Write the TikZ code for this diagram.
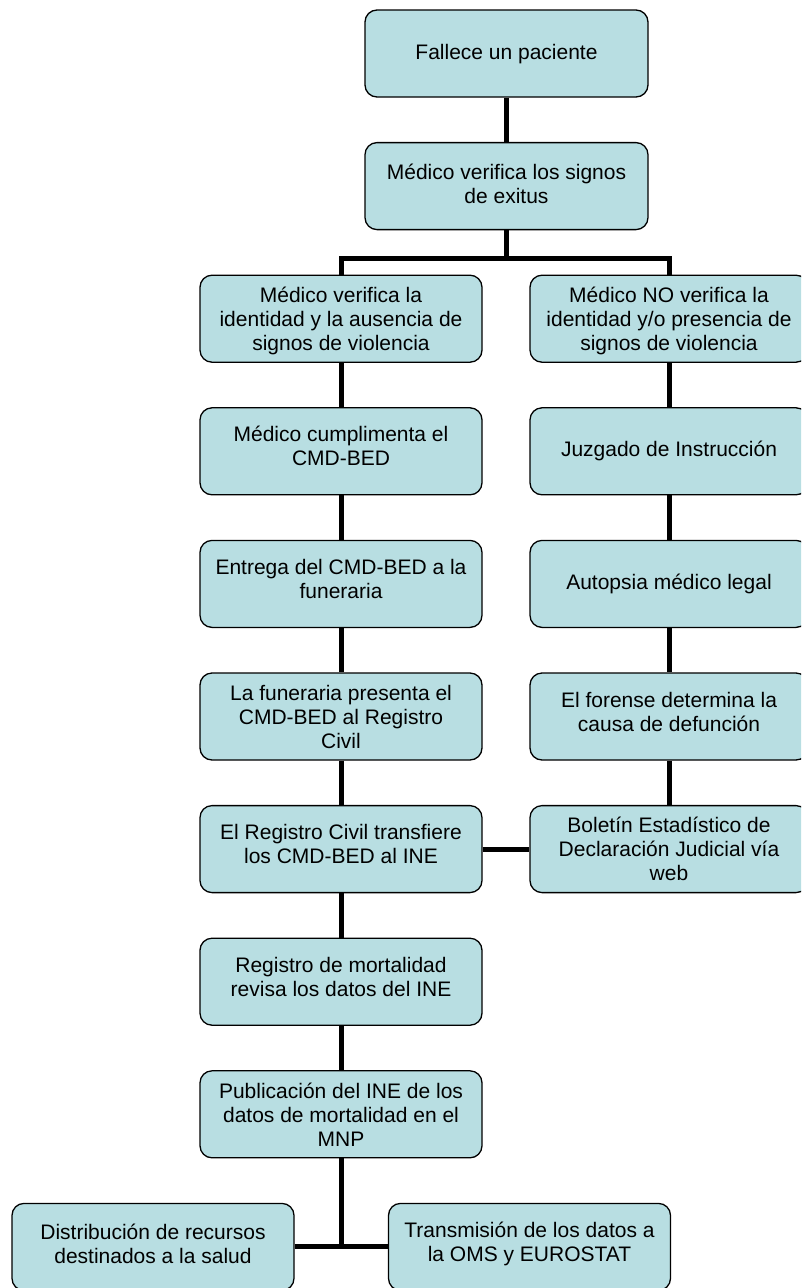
\documentclass[tikz,border=0pt]{standalone}
\usepackage{fontspec}
\setmainfont{Liberation Sans}
\usetikzlibrary{backgrounds}
\definecolor{boxblue}{RGB}{184,222,226}
\begin{document}
\begin{tikzpicture}[x=1pt,y=-1pt,
  flowbox/.style={draw=black, line width=1.3pt, fill=boxblue, rounded corners=12pt,
    minimum width=282pt, minimum height=87pt, inner sep=0pt},
  rbox/.style={flowbox, minimum width=278pt},
  tbox/.style={flowbox, minimum width=283pt},
  txt/.style={align=center, inner sep=0pt, font=\fontsize{21}{24}\selectfont},
  conn/.style={draw=black, line width=5pt, line join=miter}]
\clip (0,0) rectangle (801,1288);
% top
\node[tbox] (n0) at (506.5,53.5) {};
\node[txt] (n0t) at ([yshift=-1pt]n0.center) {Fallece un paciente};
\node[tbox] (n1) at (506.5,186.1) {};
\node[txt] (n1t) at ([yshift=2pt]n1.center) {Médico verifica los signos\\de exitus};
% left column
\node[flowbox] (l1) at (341,318.7) {};
\node[txt] (l1t) at ([yshift=-2pt]l1.center) {Médico verifica la\\identidad y la ausencia de\\signos de violencia};
\node[flowbox] (l2) at (341,451.3) {};
\node[txt] (l2t) at ([yshift=5pt]l2.center) {Médico cumplimenta el\\CMD-BED};
\node[flowbox] (l3) at (341,583.9) {};
\node[txt] (l3t) at ([yshift=5pt]l3.center) {Entrega del CMD-BED a la\\funeraria};
\node[flowbox] (l4) at (341,716.5) {};
\node[txt] (l4t) at (l4.center) {La funeraria presenta el\\CMD-BED al Registro\\Civil};
\node[flowbox] (l5) at (341,849.1) {};
\node[txt] (l5t) at ([yshift=5pt]l5.center) {El Registro Civil transfiere\\los CMD-BED al INE};
\node[flowbox] (l6) at (341,981.7) {};
\node[txt] (l6t) at ([yshift=5pt]l6.center) {Registro de mortalidad\\revisa los datos del INE};
\node[flowbox] (l7) at (341,1114.3) {};
\node[txt] (l7t) at (l7.center) {Publicación del INE de los\\datos de mortalidad en el\\MNP};
% right column
\node[rbox] (r1) at (669,318.7) {};
\node[txt] (r1t) at ([yshift=-2pt]r1.center) {Médico NO verifica la\\identidad y/o presencia de\\signos de violencia};
\node[rbox] (r2) at (669,451.3) {};
\node[txt] (r2t) at (r2.center) {Juzgado de Instrucción};
\node[rbox] (r3) at (669,583.9) {};
\node[txt] (r3t) at (r3.center) {Autopsia médico legal};
\node[rbox] (r4) at (669,716.5) {};
\node[txt] (r4t) at ([yshift=5pt]r4.center) {El forense determina la\\causa de defunción};
\node[rbox] (r5) at (669,849.1) {};
\node[txt] (r5t) at (r5.center) {Boletín Estadístico de\\Declaración Judicial vía\\web};
% bottom
\node[flowbox] (b1) at (153,1246.9) {};
\node[txt] (b1t) at ([yshift=3pt]b1.center) {Distribución de recursos\\destinados a la salud};
\node[flowbox] (b2) at (529.5,1246.9) {};
\node[txt] (b2t) at ([yshift=3pt]b2.center) {Transmisión de los datos a\\la OMS y EUROSTAT};
% connectors
\coordinate (fork) at (506.5,258);
\coordinate (bjoin) at (341,1246.9);
\begin{scope}[on background layer]
\draw[conn] (n0.south) -- (n1.north);
\draw[conn] (n1.south) -- (fork);
\draw[conn] (l1.north) |- (fork) -| (r1.north);
\draw[conn] (l1.south) -- (l2.north);
\draw[conn] (l2.south) -- (l3.north);
\draw[conn] (l3.south) -- (l4.north);
\draw[conn] (l4.south) -- (l5.north);
\draw[conn] (l5.south) -- (l6.north);
\draw[conn] (l6.south) -- (l7.north);
\draw[conn] (l7.south) -- (bjoin);
\draw[conn] (b1.east) -- (b2.west);
\draw[conn] (r1.south) -- (r2.north);
\draw[conn] (r2.south) -- (r3.north);
\draw[conn] (r3.south) -- (r4.north);
\draw[conn] (r4.south) -- (r5.north);
\draw[conn] (l5.east) -- (r5.west);
\end{scope}
\end{tikzpicture}
\end{document}
